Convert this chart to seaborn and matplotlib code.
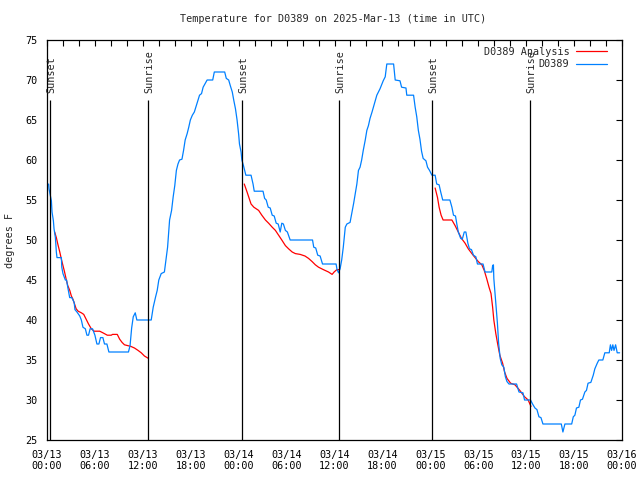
import numpy as np
import pandas as pd
import matplotlib
matplotlib.use('Agg')
import matplotlib.pyplot as plt
import matplotlib.dates as mdates
import seaborn as sns

######################################### DATA #########################################

start = pd.Timestamp('2025-03-13 00:00')

# station readings (hours after 03/13 00:00 UTC, deg F)
obs_night1 = [(0.2, 57.0), (0.25, 56.4), (0.55, 54.9), (0.63, 53.5), (0.8, 52.4), (0.88, 51.4), (1.05, 50.3),
              (1.17, 48.5), (1.25, 47.8), (1.8, 47.8), (1.85, 46.6), (2.0, 45.8), (2.3, 45.0), (2.45, 45.0),
              (2.6, 44.1), (2.84, 42.8), (3.1, 42.8), (3.4, 42.2), (3.5, 41.3), (3.75, 41.0), (4.1, 40.5),
              (4.3, 40.0), (4.5, 39.1), (4.8, 38.9), (5.0, 38.1), (5.2, 38.1), (5.4, 38.9), (5.7, 38.9),
              (6.0, 38.1), (6.25, 37.0), (6.5, 37.0), (6.7, 37.8), (7.0, 37.8), (7.2, 37.0), (7.5, 37.0),
              (7.75, 36.0), (10.2, 36.0), (10.4, 36.8), (10.6, 39.0), (10.8, 40.4), (11.05, 40.9),
              (11.25, 40.0), (13.05, 40.0)]
obs_day1 = [(13.3, 41.6), (13.6, 42.9), (13.8, 43.7), (14.0, 45.0), (14.3, 45.8), (14.7, 46.0), (14.9, 47.5),
            (15.1, 49.1), (15.35, 52.5), (15.6, 53.7), (15.8, 55.4), (16.0, 56.8), (16.2, 58.7), (16.4, 59.5),
            (16.6, 60.0), (16.9, 60.1), (17.1, 61.2), (17.3, 62.5), (17.55, 63.3), (17.75, 64.1), (17.95, 65.0),
            (18.2, 65.6), (18.45, 66.0), (18.7, 66.8), (18.9, 67.4), (19.1, 68.1), (19.35, 68.3), (19.55, 69.1),
            (20.05, 70.0), (20.75, 70.0), (20.95, 71.0), (22.25, 71.0), (22.45, 70.2), (22.75, 70.0),
            (22.95, 69.3), (23.2, 68.5), (23.4, 67.4), (23.6, 66.4), (23.8, 65.0), (24.0, 63.2), (24.1, 62.0),
            (24.3, 61.0), (24.4, 60.0), (24.6, 59.3), (24.9, 58.1)]
obs_night2 = [(25.55, 58.1), (25.8, 57.0), (25.95, 56.1), (27.05, 56.1), (27.25, 55.2), (27.45, 55.0),
              (27.7, 54.1), (27.95, 54.0), (28.2, 53.1), (28.45, 53.0), (28.7, 52.1), (28.95, 52.0),
              (29.2, 51.0), (29.4, 52.1), (29.6, 52.0), (29.85, 51.2), (30.1, 51.0), (30.45, 50.0),
              (33.25, 50.0), (33.4, 49.1), (33.65, 49.0), (33.9, 48.1), (34.2, 48.0), (34.5, 47.0),
              (36.2, 47.0), (36.3, 46.4), (36.5, 45.9), (36.7, 46.4)]
obs_day2 = [(36.9, 47.5), (37.1, 49.1), (37.35, 51.6), (37.55, 52.0), (37.95, 52.2), (38.2, 53.5), (38.4, 54.6),
            (38.6, 55.8), (38.8, 57.0), (39.0, 58.7), (39.2, 59.1), (39.4, 60.0), (39.6, 61.2), (39.85, 62.5),
            (40.05, 63.7), (40.25, 64.3), (40.45, 65.2), (40.7, 66.0), (40.9, 66.7), (41.1, 67.4), (41.3, 68.1),
            (41.7, 68.9), (42.1, 69.9), (42.35, 70.4), (42.55, 72.0), (43.4, 72.0), (43.6, 70.0), (44.2, 69.9),
            (44.4, 69.1), (44.95, 69.0), (45.05, 68.1), (45.9, 68.1), (46.1, 66.6), (46.3, 65.4), (46.5, 63.7),
            (46.7, 62.6), (46.9, 61.1), (47.1, 60.2), (47.45, 59.9), (47.65, 59.1), (47.9, 58.7), (48.2, 58.1),
            (48.6, 58.1), (48.8, 57.0), (49.1, 56.9)]
obs_night3 = [(49.3, 56.0), (49.55, 55.0), (50.45, 55.0), (50.7, 54.1), (50.9, 53.1), (51.15, 53.0), (51.3, 52.1),
              (51.5, 51.0), (51.8, 50.2), (52.0, 50.1), (52.25, 51.0), (52.45, 51.0), (52.7, 49.6), (52.9, 48.9),
              (53.15, 48.8), (53.4, 48.1), (53.7, 47.9), (53.9, 47.0), (54.6, 47.0), (54.85, 46.0), (55.7, 46.0),
              (55.8, 46.8), (55.9, 46.9), (55.95, 45.2), (56.2, 42.1), (56.4, 39.6), (56.55, 37.1), (56.75, 35.2),
              (56.95, 34.4), (57.2, 34.1), (57.4, 32.9), (57.6, 32.3), (57.85, 32.0), (58.8, 32.0), (59.1, 31.0),
              (59.6, 30.9), (59.8, 30.0), (60.55, 30.0), (60.8, 29.5), (61.1, 29.0), (61.35, 28.8), (61.6, 27.9),
              (61.85, 27.8), (62.1, 27.0)]
obs_day3 = [(64.4, 27.0), (64.6, 26.0), (64.85, 27.0), (65.7, 27.0), (65.9, 27.9), (66.1, 28.1), (66.3, 29.0),
            (66.6, 29.1), (66.8, 30.0), (67.05, 30.1), (67.35, 31.0), (67.55, 31.2), (67.75, 32.1), (68.1, 32.2),
            (68.4, 33.1), (68.6, 33.9), (68.9, 34.6), (69.1, 35.0), (69.6, 35.0), (69.85, 35.9), (70.4, 35.9),
            (70.55, 36.9), (70.7, 36.2), (70.85, 36.9), (71.0, 36.2), (71.2, 36.9), (71.4, 35.9), (71.7, 35.9)]

# analysis (one curve per night)
ana_night1 = [(0.96, 51.0), (1.17, 50.3), (1.35, 49.5), (1.6, 48.5), (1.8, 47.6), (2.0, 46.8), (2.2, 46.0),
              (2.4, 45.1), (2.6, 44.3), (2.85, 43.7), (3.05, 43.0), (3.25, 42.6), (3.45, 42.0), (3.65, 41.4),
              (3.9, 41.1), (4.3, 40.9), (4.6, 40.7), (4.9, 40.1), (5.2, 39.5), (5.55, 38.9), (5.9, 38.6),
              (6.6, 38.6), (7.0, 38.4), (7.55, 38.1), (8.05, 38.1), (8.2, 38.2), (8.8, 38.2), (9.1, 37.6),
              (9.4, 37.2), (9.7, 36.9), (10.1, 36.8), (10.5, 36.7), (10.95, 36.5), (11.4, 36.2), (11.8, 35.9),
              (12.2, 35.5), (12.7, 35.2)]
ana_night2 = [(24.7, 57.0), (25.05, 56.0), (25.35, 55.1), (25.55, 54.5), (25.9, 54.1), (26.5, 53.7), (26.9, 53.1),
              (27.35, 52.5), (27.75, 52.1), (28.2, 51.6), (28.6, 51.2), (29.0, 50.6), (29.4, 50.0), (29.85, 49.3),
              (30.25, 48.9), (30.7, 48.5), (31.1, 48.3), (31.7, 48.2), (32.3, 48.0), (32.75, 47.7), (33.2, 47.3),
              (33.6, 46.9), (34.0, 46.6), (34.6, 46.3), (35.25, 46.0), (35.7, 45.7), (35.95, 46.0), (36.3, 46.3),
              (36.6, 46.3)]
ana_night3 = [(48.6, 56.5), (48.9, 55.3), (49.1, 54.1), (49.35, 53.1), (49.6, 52.5), (50.7, 52.5), (51.1, 51.8),
              (51.5, 51.0), (51.9, 50.2), (52.35, 49.6), (52.75, 48.9), (53.2, 48.3), (53.6, 47.8), (54.0, 47.3),
              (54.45, 46.9), (54.75, 46.2), (55.05, 45.2), (55.35, 44.1), (55.6, 43.3), (55.8, 41.6), (55.95, 40.0),
              (56.2, 38.3), (56.45, 36.9), (56.7, 35.6), (57.05, 34.6), (57.3, 33.5), (57.6, 32.7), (58.05, 32.1),
              (58.6, 31.9), (59.2, 31.2), (59.8, 30.4), (60.25, 30.0), (60.6, 29.2)]

# sunset / sunrise times (hours after start)
sun_hours = [0.37, 12.62, 24.4, 36.6, 48.27, 60.52]
sun_labels = ['Sunset', 'Sunrise', 'Sunset', 'Sunrise', 'Sunset', 'Sunrise']

######################################### FRAMES #########################################

def to_frame(points, seg):
    df = pd.DataFrame(points, columns=['hours', 'temp'])
    df['time'] = start + pd.to_timedelta(df['hours'], unit='h')
    df['seg'] = seg
    return df

obs = pd.concat([to_frame(p, 0) for p in [obs_night1, obs_day1, obs_night2, obs_day2, obs_night3, obs_day3]])
ana = pd.concat([to_frame(p, i) for i, p in enumerate([ana_night1, ana_night2, ana_night3])])

######################################### PLOT #########################################

sns.set_style('white')
plt.rcParams['font.family'] = ['DejaVu Sans Mono']
plt.rcParams['font.size'] = 7.3

fig = plt.figure(figsize=(6.4, 4.8), dpi=100)
ax = fig.add_axes([47 / 640, 40 / 480, 575 / 640, 400 / 480])

sns.lineplot(data=ana, x='time', y='temp', units='seg', estimator=None, color='#ff0000',
             linewidth=0.9, ax=ax, sort=False)
n_red = len(ax.lines)
sns.lineplot(data=obs, x='time', y='temp', units='seg', estimator=None, color='#0080ff',
             linewidth=0.9, ax=ax, sort=False)

sun_times = [start + pd.Timedelta(hours=h) for h in sun_hours]
ax.vlines(sun_times, 25, 67.5, color='black', linewidth=0.9)
for t, lab in zip(sun_times, sun_labels):
    ax.text(t + pd.Timedelta(minutes=10), 68.4, lab, rotation=90, ha='center', va='bottom')

ax.set_xlim(start, start + pd.Timedelta(hours=72))
ax.set_ylim(25, 75)
ax.set_yticks(np.arange(25, 76, 5))
ax.xaxis.set_major_locator(mdates.HourLocator(byhour=[0, 6, 12, 18]))
ax.xaxis.set_minor_locator(mdates.HourLocator(interval=2))
ax.xaxis.set_major_formatter(mdates.DateFormatter('%m/%d\n%H:%M'))
ax.tick_params(which='both', direction='in', length=4, width=0.8, top=True, right=True,
               colors='black', labelsize=7.3)
ax.tick_params(axis='x', which='major', pad=7)
ax.tick_params(axis='y', pad=7)
for s in ax.spines.values():
    s.set_color('black')
    s.set_linewidth(0.9)

ax.set_xlabel('')
ax.set_ylabel('')
fig.text(10 / 640, 1 - 240 / 480, 'degrees F', rotation=90, ha='center', va='center')
fig.text(333 / 640, 1 - 19 / 480, 'Temperature for D0389 on 2025-Mar-13 (time in UTC)',
         ha='center', va='center')

handles = [ax.lines[0], ax.lines[n_red]]
ax.legend(handles, ['D0389 Analysis', 'D0389'], loc='upper right', bbox_to_anchor=(0.985, 1.0),
          frameon=False, markerfirst=False, handlelength=3.0, handletextpad=0.7,
          labelspacing=0.25, borderaxespad=0.25)

plt.savefig('out.png', dpi=100)
